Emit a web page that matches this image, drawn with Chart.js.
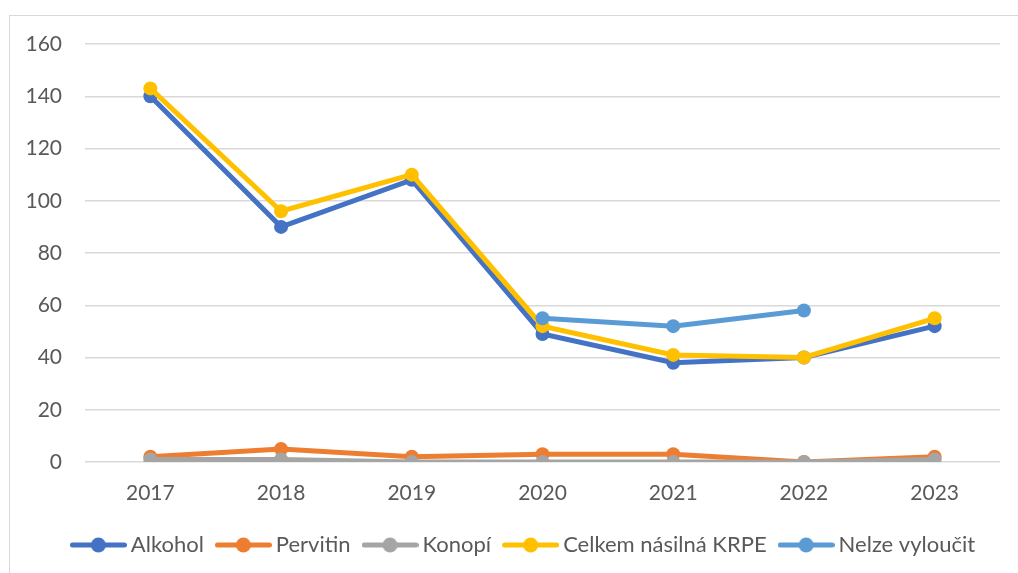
<!DOCTYPE html>
<html>
<head>
<meta charset="utf-8">
<script src="https://cdn.jsdelivr.net/npm/chart.js@4.4.1/dist/chart.umd.min.js"></script>
<style>
  html, body { margin: 0; padding: 0; background: #fff; }
  #wrap { position: relative; width: 1018px; height: 573px; overflow: hidden; }
  #frame { position: absolute; left: 9px; top: 15px; width: 1100px; height: 700px;
           border-top: 1.5px solid #d9d9d9; border-left: 1.5px solid #d9d9d9; box-sizing: border-box; }
  #c { position: absolute; left: 0; top: 0; }
</style>
</head>
<body>
<div id="wrap">
  <div id="frame"></div>
  <canvas id="c" width="1018" height="573"></canvas>
</div>
<script>
const years = ['2017', '2018', '2019', '2020', '2021', '2022', '2023'];
const alkohol = [140, 90, 108, 49, 38, 40, 52];
const pervitin = [2, 5, 2, 3, 3, 0, 2];
const konopi = [1, 1, 0, 0, 0, 0, 1];
const celkem = [143, 96, 110, 52, 41, 40, 55];
const nelzeVyloucit = [null, null, null, 55, 52, 58, null];
const seriesNames = ['Alkohol', 'Pervitin', 'Konopí', 'Celkem násilná KRPE', 'Nelze vyloučit'];
const seriesColors = ['#4472C4', '#ED7D31', '#A5A5A5', '#FFC000', '#5B9BD5'];
const yTicks = [0, 20, 40, 60, 80, 100, 120, 140, 160];

const FONT = 'Lato';
const TEXT = '#595959';

function legendMarker(color) {
  const W = 57, H = 18;
  const cv = document.createElement('canvas');
  cv.width = W; cv.height = H;
  const g = cv.getContext('2d');
  g.strokeStyle = color;
  g.lineWidth = 5;
  g.lineCap = 'round';
  g.beginPath();
  g.moveTo(2.5, H / 2);
  g.lineTo(W - 2.5, H / 2);
  g.stroke();
  g.fillStyle = color;
  g.beginPath();
  g.arc(W / 2, H / 2, 7.5, 0, Math.PI * 2);
  g.fill();
  return cv;
}
const markers = seriesColors.map(legendMarker);

const allData = [alkohol, pervitin, konopi, celkem, nelzeVyloucit];
const datasets = allData.map((d, i) => ({
  label: seriesNames[i],
  data: d,
  borderColor: seriesColors[i],
  backgroundColor: seriesColors[i],
  pointBackgroundColor: seriesColors[i],
  pointBorderColor: seriesColors[i],
  borderWidth: 5,
  pointRadius: 7,
  pointHoverRadius: 7,
  pointBorderWidth: 0,
  tension: 0,
  spanGaps: false,
  order: allData.length - i
}));

// Shift the legend so it is centred under the plot area as in the reference
const legendShift = {
  id: 'legendShift',
  afterLayout(chart) {
    if (chart.legend) { chart.legend.left += 52; }
  }
};

new Chart(document.getElementById('c'), {
  type: 'line',
  data: { labels: years, datasets },
  plugins: [legendShift],
  options: {
    responsive: false,
    animation: false,
    layout: { padding: { left: 0, right: 18, top: 44, bottom: 7 } },
    plugins: {
      tooltip: { enabled: false },
      legend: {
        position: 'bottom',
        labels: {
          usePointStyle: true,
          pointStyleWidth: 43,
          padding: 18,
          color: TEXT,
          font: { family: FONT, size: 22 },
          sort: (a, b) => a.datasetIndex - b.datasetIndex,
          generateLabels: (chart) => {
            const items = Chart.defaults.plugins.legend.labels.generateLabels(chart);
            items.forEach(it => { it.pointStyle = markers[it.datasetIndex]; });
            return items;
          }
        }
      }
    },
    scales: {
      x: {
        offset: true,
        grid: { display: false, drawTicks: false },
        border: { display: false },
        afterFit: (s) => { s.height = 54; },
        ticks: { color: TEXT, font: { family: FONT, size: 21 }, padding: 19, maxRotation: 0 }
      },
      y: {
        min: 0, max: 160,
        afterBuildTicks: (s) => { s.ticks = yTicks.map(v => ({ value: v })); },
        afterFit: (s) => { s.width = 85; },
        grid: { color: '#d9d9d9', lineWidth: 1.5, drawTicks: false },
        border: { display: false },
        ticks: { color: TEXT, font: { family: FONT, size: 21 }, padding: 23 }
      }
    }
  }
});
</script>
</body>
</html>
